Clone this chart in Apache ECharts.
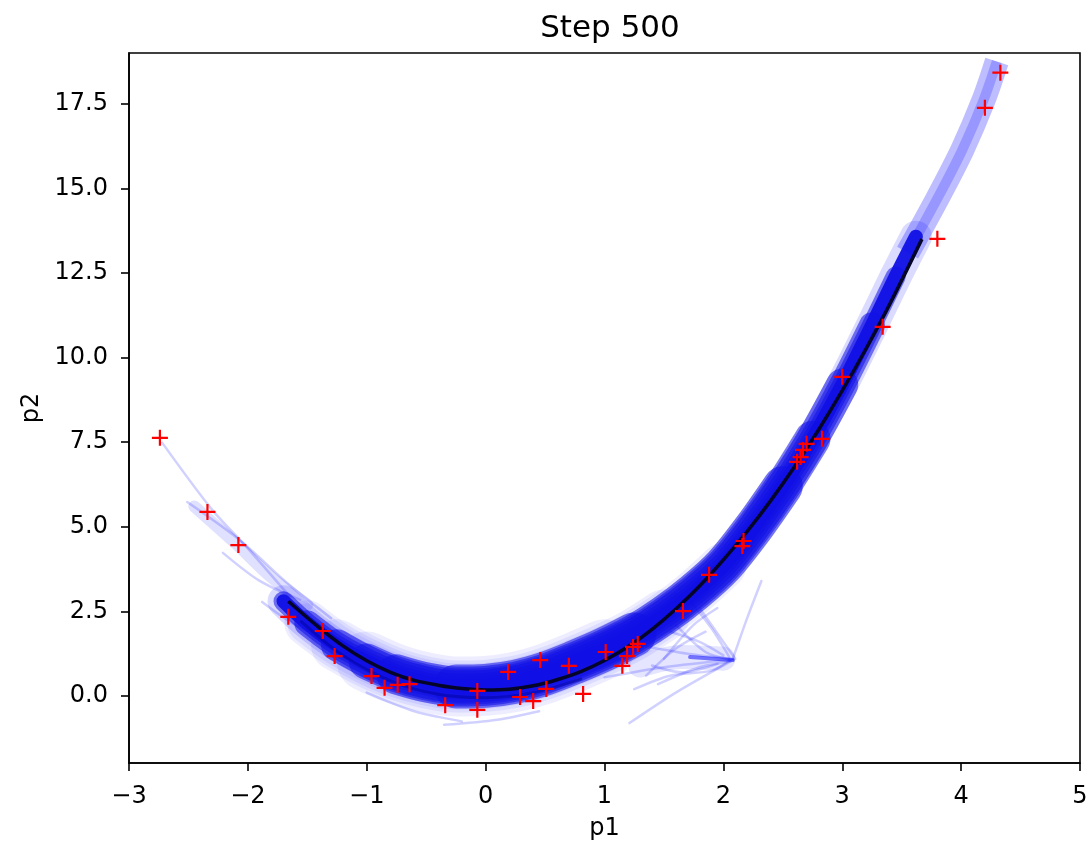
<!DOCTYPE html>
<html lang="en">
<head>
<meta charset="UTF-8">
<title>Step 500</title>
<style>
    html, body { margin: 0; padding: 0; background: #fff; }
    #main { width: 1091px; height: 846px; }
</style>
<script src="https://cdn.jsdelivr.net/npm/echarts@6/dist/echarts.min.js"></script>
</head>
<body>
<div id="main"></div>
<script>
// red "+" samples (p1, p2)
var samples = [
    [-2.74, 7.63], [-2.34, 5.44], [-2.08, 4.46], [-1.66, 2.34], [-1.37, 1.92],
    [-1.27, 1.18], [-0.96, 0.59], [-0.85, 0.24], [-0.74, 0.33], [-0.64, 0.35],
    [-0.34, -0.27], [-0.07, 0.15], [-0.07, -0.41], [0.19, 0.71], [0.29, -0.03],
    [0.40, -0.15], [0.46, 1.06], [0.51, 0.21], [0.70, 0.89], [0.82, 0.06],
    [1.01, 1.30], [1.15, 0.89], [1.19, 1.18], [1.24, 1.45], [1.28, 1.54],
    [1.66, 2.51], [1.88, 3.58], [2.16, 4.43], [2.17, 4.58], [2.62, 6.92],
    [2.65, 7.06], [2.67, 7.27], [2.70, 7.45], [2.83, 7.60], [3.00, 9.43],
    [3.34, 10.91], [3.80, 13.51], [4.20, 17.38], [4.33, 18.42]
];

// black mean curve
var meanPath = [
    [-1.66, 2.80], [-1.4, 2.02], [-1.2, 1.48], [-1.0, 1.04], [-0.8, 0.70],
    [-0.6, 0.46], [-0.4, 0.32], [-0.2, 0.22], [0.0, 0.18], [0.2, 0.20],
    [0.4, 0.30], [0.6, 0.48], [0.8, 0.72], [1.0, 1.05], [1.2, 1.46],
    [1.4, 1.97], [1.6, 2.57], [1.8, 3.25], [2.0, 4.02], [2.2, 4.86],
    [2.4, 5.78], [2.6, 6.78], [2.8, 7.86], [3.0, 9.02], [3.2, 10.26],
    [3.4, 11.58], [3.67, 13.50]
];

// centre of the dense blue band of trajectories
var bandPath = [
    [-1.70, 2.80], [-1.50, 2.15], [-1.25, 1.50], [-1.00, 1.02], [-0.75, 0.64],
    [-0.50, 0.40], [-0.25, 0.28], [0.00, 0.30], [0.25, 0.42], [0.50, 0.66],
    [0.75, 1.00], [1.00, 1.38], [1.25, 1.82], [1.50, 2.38], [1.75, 3.05],
    [2.00, 3.85], [2.25, 4.95], [2.50, 6.20], [2.75, 7.60], [3.00, 9.20],
    [3.25, 10.95], [3.45, 12.40], [3.62, 13.57]
];

// lighter band above the mean curve end
var upperPath = [
    [3.55, 13.10], [3.80, 14.70], [4.01, 16.14], [4.19, 17.62], [4.30, 18.75]
];

// single faint trajectories
var strays = [
    [[-2.72, 7.48], [-2.30, 5.50], [-2.01, 4.40], [-1.65, 2.95]],
    [[-2.51, 5.73], [-2.07, 4.61], [-1.65, 3.28], [-1.30, 2.30]],
    [[-2.21, 4.23], [-1.90, 3.40], [-1.56, 2.84]],
    [[-1.88, 2.78], [-1.60, 2.10], [-1.31, 1.66]],
    [[1.21, -0.80], [1.60, 0.10], [2.08, 1.06]],
    [[1.00, 0.55], [1.50, 0.85], [2.08, 1.08]],
    [[1.30, 1.50], [1.70, 1.25], [2.08, 1.10]],
    [[1.45, 0.35], [1.80, 0.85], [2.06, 1.02]],
    [[2.08, 1.10], [2.20, 2.30], [2.32, 3.40]],
    [[1.55, 1.90], [1.80, 1.60], [2.00, 1.20]],
    [[1.70, 2.90], [1.90, 2.00], [2.05, 1.15]],
    [[1.35, 0.60], [1.60, 1.40], [1.85, 1.90]],
    [[1.25, 0.20], [1.55, 0.60], [1.90, 0.75], [2.05, 1.05]],
    [[1.50, 1.10], [1.75, 2.10], [1.95, 2.60]],
    [[1.40, 0.90], [1.65, 0.70], [1.95, 0.95]],
    [[1.60, 2.10], [1.85, 1.30], [2.06, 1.08]],
    [[1.80, 2.60], [2.00, 1.60], [2.10, 1.10]],
    [[-0.35, -0.85], [0.10, -0.70], [0.45, -0.45]],
    [[-1.00, 0.10], [-0.60, -0.45], [-0.20, -0.75]]
];
var fanHaze = [[1.30, 0.90], [1.65, 1.15], [2.00, 1.10]];
var leftHaze = [[-2.45, 5.60], [-2.10, 4.50], [-1.80, 3.50], [-1.50, 2.70]];
var spikeCore = [[1.72, 1.15], [2.08, 1.06]];
var navyPath = [
    [-1.55, 2.20], [-1.20, 1.20], [-0.80, 0.45], [-0.40, 0.05], [0.00, -0.05],
    [0.40, 0.10], [0.80, 0.50]
];

var yTicks = [0, 2.5, 5, 7.5, 10, 12.5, 15, 17.5];

var FONT = 'DejaVu Sans';
var chart = echarts.init(document.getElementById('main'));

function band(data, width, opacity, color, z, cap) {
    return {
        type: 'line',
        data: data,
        symbol: 'none',
        smooth: 0.3,
        z: z,
        silent: true,
        lineStyle: { color: color, width: width, opacity: opacity, cap: cap || 'round', join: 'round' }
    };
}
function between(path, a, b) {
    return path.filter(function (p) { return p[0] >= a && p[0] <= b; });
}

var series = [];
// light fringes, stacked so they taper
[[-1.0, 1.0, 60], [-1.25, 1.5, 52], [-1.5, 2.0, 46], [-1.5, 2.5, 40]].forEach(function (r) {
    series.push(band(between(bandPath, r[0], r[1]), r[2], 0.07, '#0000ff', 1));
});
series.push(band(bandPath, 32, 0.14, '#0000ff', 1));
series.push(band(upperPath, 24, 0.26, '#0000ff', 1, 'butt'));
series.push(band(upperPath, 10, 0.2, '#0000ff', 1, 'butt'));
series.push(band(leftHaze, 12, 0.12, '#0000ff', 1));
series.push(band(fanHaze, 24, 0.1, '#0000ff', 1));
strays.forEach(function (s) {
    series.push(band(s, 2.5, 0.18, '#0000ff', 2));
});
series.push(band(spikeCore, 4, 0.5, '#0000ff', 2));
// dense core: a solid spine plus layers that widen towards the bottom
series.push(band(bandPath, 14, 0.95, '#1010e6', 3));
[[-1.7, 3.45, 20], [-1.5, 3.25, 26], [-1.25, 3.0, 32], [-1.0, 2.75, 36],
 [-0.75, 2.5, 40], [-0.25, 1.25, 44]].forEach(function (r) {
    series.push(band(between(bandPath, r[0], r[1]), r[2], 0.55, '#1010e6', 3));
});
series.push(band(navyPath, 3, 0.45, '#000090', 4));
series.push(band(meanPath, 3.5, 1, '#05052a', 5, 'butt'));
series.push({
    type: 'scatter',
    data: samples,
    z: 6,
    symbol: 'path://M-1.1,-8H1.1V-1.1H8V1.1H1.1V8H-1.1V1.1H-8V-1.1H-1.1Z',
    symbolSize: 16,
    itemStyle: { color: '#ff0000', opacity: 1 }
});

var option = {
    animation: false,
    backgroundColor: '#ffffff',
    title: {
        text: 'Step 500',
        left: 605,
        textAlign: 'center',
        top: 8,
        textStyle: { fontFamily: FONT, fontSize: 31, fontWeight: 'normal', color: '#000' }
    },
    grid: {
        left: 129, right: 11, top: 53, bottom: 83,
        show: true, borderColor: '#000', borderWidth: 1.6, backgroundColor: 'transparent'
    },
    xAxis: {
        type: 'value',
        min: -3, max: 5, interval: 1,
        name: 'p1',
        nameLocation: 'middle',
        nameGap: 54,
        nameTextStyle: { fontFamily: FONT, fontSize: 24, color: '#000' },
        axisLine: { show: true, onZero: false, lineStyle: { color: '#000', width: 1.6 } },
        axisTick: { show: true, length: 8, lineStyle: { color: '#000', width: 1.6 } },
        axisLabel: {
            fontFamily: FONT, fontSize: 24, color: '#000', margin: 22,
            formatter: function (v) { return String(v).replace('-', '\u2212'); }
        },
        splitLine: { show: false }
    },
    yAxis: {
        type: 'value',
        min: -1.98, max: 19.0,
        name: 'p2',
        nameLocation: 'middle',
        nameRotate: 90,
        nameGap: 85,
        nameTextStyle: { fontFamily: FONT, fontSize: 24, color: '#000' },
        axisLine: { show: true, onZero: false, lineStyle: { color: '#000', width: 1.6 } },
        axisTick: { show: true, length: 8, customValues: yTicks, lineStyle: { color: '#000', width: 1.6 } },
        axisLabel: {
            fontFamily: FONT, fontSize: 24, color: '#000', margin: 21,
            customValues: yTicks,
            formatter: function (v) { return v.toFixed(1); }
        },
        splitLine: { show: false }
    },
    series: series
};

chart.setOption(option);
</script>
</body>
</html>
